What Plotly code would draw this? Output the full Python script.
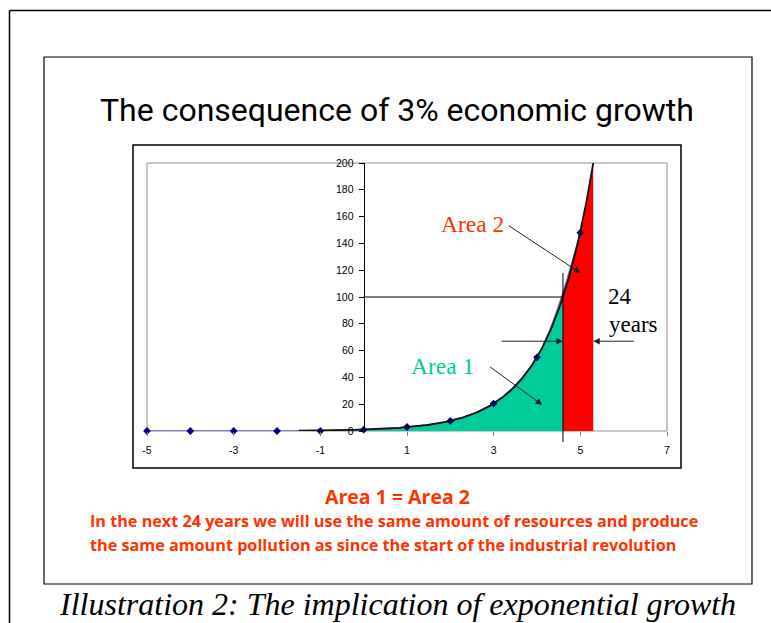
import numpy as np
import plotly.graph_objects as go

# ---- data ----
years = [-5, -4, -3, -2, -1, 0, 1, 2, 3, 4, 5]
values = [0, 0, 0, 0, 0, 1, 3, 7.5, 20.5, 55, 148]
x_ticks = [-5, -3, -1, 1, 3, 5, 7]
x_tick_labels = ["-5", "-3", "-1", "1", "3", "5", "7"]
y_ticks = [0, 20, 40, 60, 80, 100, 120, 140, 160, 180, 200]
level = 100          # today's level (area 1 = area 2)
trend_start = -1.5   # Excel trendline drawn from here

# exponential trendline fitted to the data (as Excel does)
ya = np.array(years, float)
va = np.array(values, float)
pos = va > 0
b, a = np.polyfit(ya[pos], np.log(va[pos]), 1)
split_year = (np.log(level) - a) / b
end_year = (np.log(2 * level) - a) / b
tx = np.linspace(trend_start, end_year, 300)
ty = np.exp(a + b * tx)

W, H = 771, 623
ML, MR, MT, MB = 147, 104, 163, 192
PW, PH = W - ML - MR, H - MT - MB


def px(x):
    return (x - ML) / PW


def py(y):
    return (H - MB - y) / PH


fig = go.Figure()

# Area 1 (green)
m1 = tx <= split_year
x1 = np.append(tx[m1], split_year)
y1 = np.append(ty[m1], level)
fig.add_trace(go.Scatter(x=x1, y=y1, fill="tozeroy", mode="lines",
                         line=dict(color="#00CC99", width=0),
                         fillcolor="#00CC99", hoverinfo="skip", showlegend=False))
# Area 2 (red)
m2 = tx >= split_year
x2 = np.insert(tx[m2], 0, split_year)
y2 = np.insert(ty[m2], 0, level)
fig.add_trace(go.Scatter(x=x2, y=y2, fill="tozeroy", mode="lines",
                         line=dict(color="#FF0000", width=0),
                         fillcolor="#FF0000", hoverinfo="skip", showlegend=False))
# data series (smoothed line)
fig.add_trace(go.Scatter(x=years, y=values, mode="lines+markers",
                         line=dict(color="#6a6ab8", width=1.6, shape="spline", smoothing=1),
                         marker=dict(symbol="diamond", size=6, color="#000080"),
                         cliponaxis=False, showlegend=False))
# trendline
fig.add_trace(go.Scatter(x=tx, y=ty, mode="lines",
                         line=dict(color="#111111", width=1.8),
                         hoverinfo="skip", showlegend=False))

shapes = []
# plot-area border
shapes.append(dict(type="rect", xref="paper", yref="paper", x0=0, x1=1, y0=0, y1=1,
                   layer="below", line=dict(color="#909090", width=1)))
# horizontal line at today's level
shapes.append(dict(type="line", xref="x", yref="y", x0=0, x1=split_year, y0=level, y1=level,
                   line=dict(color="black", width=1)))
# vertical line at split year
shapes.append(dict(type="line", xref="x", yref="paper", x0=split_year, x1=split_year,
                   y0=py(442), y1=py(273), line=dict(color="black", width=1)))
# chart frame
shapes.append(dict(type="rect", xref="paper", yref="paper", x0=px(133), x1=px(681),
                   y0=py(468), y1=py(145), line=dict(color="black", width=1.5)))
# slide frame
shapes.append(dict(type="rect", xref="paper", yref="paper", x0=px(44), x1=px(752),
                   y0=py(584), y1=py(57), line=dict(color="black", width=1.2)))
# outer frame (left + top)
shapes.append(dict(type="line", xref="paper", yref="paper", x0=px(9.5), x1=px(9.5),
                   y0=py(630), y1=py(10.5), line=dict(color="black", width=1.5)))
shapes.append(dict(type="line", xref="paper", yref="paper", x0=px(9.5), x1=px(780),
                   y0=py(10.5), y1=py(10.5), line=dict(color="black", width=1.5)))

ann = []


def text(x, y, s, size, color, family, **kw):
    ann.append(dict(x=px(x), y=py(y), xref="paper", yref="paper", text=s, showarrow=False,
                    font=dict(size=size, color=color, family=family),
                    xanchor=kw.get("xanchor", "center"), yanchor="middle"))


def arrow(hx, hy, tx_, ty_):
    ann.append(dict(x=hx, y=hy, xref="x", yref="y", ax=tx_, ay=ty_, axref="x", ayref="y",
                    text="", showarrow=True, arrowhead=2, arrowsize=1.3, arrowwidth=1,
                    arrowcolor="#222222", standoff=0))


text(397, 110, "The consequence of 3% economic growth", 32, "black", "Roboto")
text(472, 224, "Area 2", 23.5, "#FF3300", "Liberation Serif")
text(442, 366, "Area 1", 23.5, "#00CC99", "Liberation Serif")
text(620, 296, "24", 23, "black", "Liberation Serif")
text(633, 324, "years", 23, "black", "Liberation Serif")
text(397, 496, "<b>Area 1 = Area 2</b>", 19.5, "#FF3300", "Open Sans")
text(88, 521, "<b>In the next 24 years we will use the same amount of resources and produce</b>",
     16.2, "#FF3300", "Open Sans", xanchor="left")
text(88, 545, "<b>the same amount pollution as since the start of the industrial revolution</b>",
     16.2, "#FF3300", "Open Sans", xanchor="left")
text(397, 604, "<i>Illustration 2: The implication of exponential growth</i>", 32, "black",
     "Liberation Serif")

arrow(5.0, 118, 3.31, 154)
arrow(4.12, 19.5, 2.88, 48.7)
arrow(split_year, 67, 3.15, 67)
arrow(end_year, 67, 6.27, 67)

fig.update_layout(
    width=W, height=H, margin=dict(l=ML, r=MR, t=MT, b=MB, pad=0),
    paper_bgcolor="white", plot_bgcolor="white",
    shapes=shapes, annotations=ann, showlegend=False,
    xaxis=dict(range=[-5, 7], tickvals=x_ticks, ticktext=x_tick_labels, ticks="outside",
               ticklen=4, tickcolor="#808080", showgrid=False, zeroline=False,
               showline=False, ticklabelstandoff=5,
               tickfont=dict(family="Liberation Sans", size=10.5, color="black")),
    yaxis=dict(range=[0, 200], tickvals=y_ticks, anchor="free", position=5 / 12,
               ticks="outside", ticklen=5, tickcolor="black", showline=True,
               linecolor="black", linewidth=1, showgrid=False, zeroline=False,
               ticklabelstandoff=3,
               tickfont=dict(family="Liberation Sans", size=10.5, color="black")),
)

fig.write_html("out.html", config={"displayModeBar": False},
               post_script="document.body.style.margin='0';document.body.style.overflow='hidden';")
